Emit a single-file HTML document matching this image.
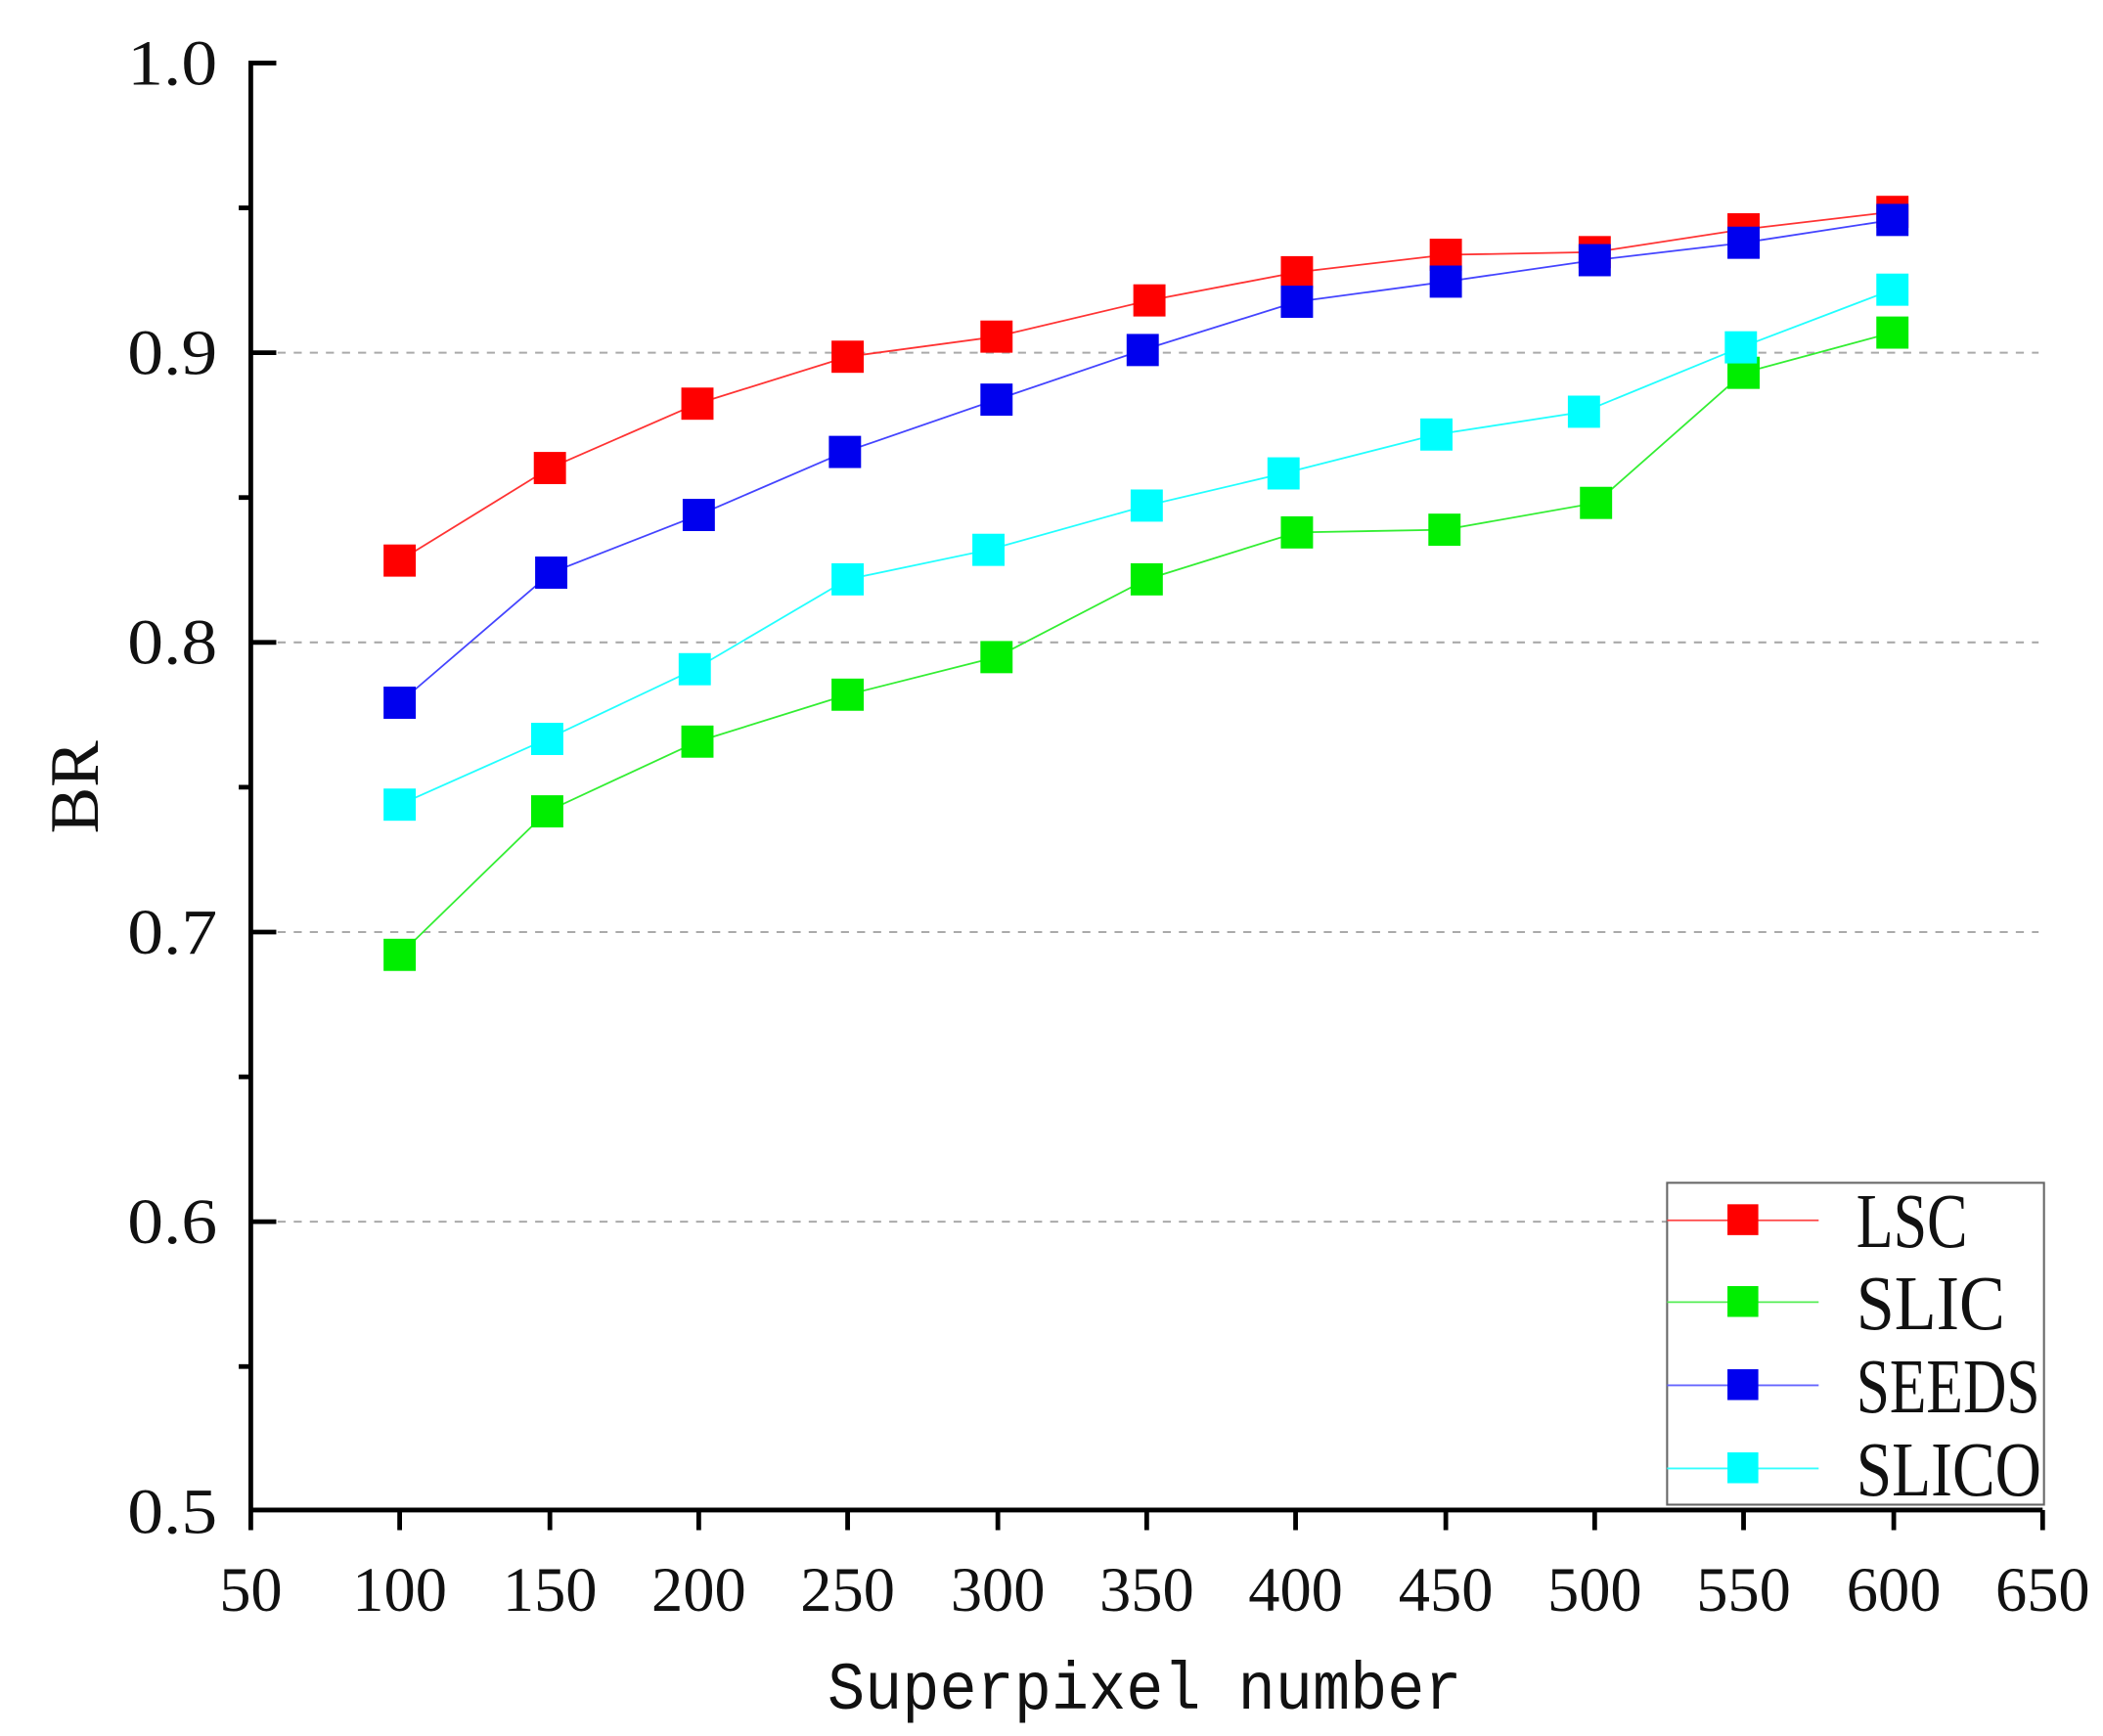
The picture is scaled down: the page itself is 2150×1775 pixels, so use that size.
<!DOCTYPE html>
<html><head><meta charset="utf-8"><style>
html,body{margin:0;padding:0;background:#fff;}
svg{display:block;}
text{font-family:"Liberation Serif",serif;fill:#111;}
</style></head><body>
<svg width="2150" height="1775" viewBox="0 0 1568 1294.5" xmlns="http://www.w3.org/2000/svg">
<rect width="1568" height="1294.5" fill="#fff"/>
<g stroke="#aaa" stroke-width="1.5" stroke-dasharray="6,6">
<line x1="207" y1="263" x2="1520" y2="263"/>
<line x1="207" y1="479" x2="1520" y2="479"/>
<line x1="207" y1="695" x2="1520" y2="695"/>
<line x1="207" y1="911" x2="1243" y2="911"/>
</g>
<g fill="none" stroke-width="1.3">
<polyline stroke="#ff3333" points="298,418 410,349 520,301 632,266 743,251 857,224 967,203 1078,190 1189,188 1300,171 1411,158"/>
<polyline stroke="#4444ff" points="298,524 411,427 521,384 630,337 743,298 852,261 967,225 1078,210 1189,194 1300,181 1411,164"/>
<polyline stroke="#22ffff" points="298,600 408,551 518,499 632,432 737,410 855,377 957,353 1071,324 1181,307 1298,259 1411,216"/>
<polyline stroke="#33ee33" points="298,712 408,605 520,553 632,518 743,490 855,432 967,397 1077,395 1190,375 1300,278 1411,248"/>
</g>
<g fill="#ff0000">
<rect x="286" y="406" width="24" height="24"/><rect x="398" y="337" width="24" height="24"/><rect x="508" y="289" width="24" height="24"/><rect x="620" y="254" width="24" height="24"/><rect x="731" y="239" width="24" height="24"/><rect x="845" y="212" width="24" height="24"/><rect x="955" y="191" width="24" height="24"/><rect x="1066" y="178" width="24" height="24"/><rect x="1177" y="176" width="24" height="24"/><rect x="1288" y="159" width="24" height="24"/><rect x="1399" y="146" width="24" height="24"/>
</g>
<g fill="#00ee00">
<rect x="286" y="700" width="24" height="24"/><rect x="396" y="593" width="24" height="24"/><rect x="508" y="541" width="24" height="24"/><rect x="620" y="506" width="24" height="24"/><rect x="731" y="478" width="24" height="24"/><rect x="843" y="420" width="24" height="24"/><rect x="955" y="385" width="24" height="24"/><rect x="1065" y="383" width="24" height="24"/><rect x="1178" y="363" width="24" height="24"/><rect x="1288" y="266" width="24" height="24"/><rect x="1399" y="236" width="24" height="24"/>
</g>
<g fill="#0000ee">
<rect x="286" y="512" width="24" height="24"/><rect x="399" y="415" width="24" height="24"/><rect x="509" y="372" width="24" height="24"/><rect x="618" y="325" width="24" height="24"/><rect x="731" y="286" width="24" height="24"/><rect x="840" y="249" width="24" height="24"/><rect x="955" y="213" width="24" height="24"/><rect x="1066" y="198" width="24" height="24"/><rect x="1177" y="182" width="24" height="24"/><rect x="1288" y="169" width="24" height="24"/><rect x="1399" y="152" width="24" height="24"/>
</g>
<g fill="#00ffff">
<rect x="286" y="588" width="24" height="24"/><rect x="396" y="539" width="24" height="24"/><rect x="506" y="487" width="24" height="24"/><rect x="620" y="420" width="24" height="24"/><rect x="725" y="398" width="24" height="24"/><rect x="843" y="365" width="24" height="24"/><rect x="945" y="341" width="24" height="24"/><rect x="1059" y="312" width="24" height="24"/><rect x="1169" y="295" width="24" height="24"/><rect x="1286" y="247" width="24" height="24"/><rect x="1399" y="204" width="24" height="24"/>
</g>
<g stroke="#000" stroke-width="3.5" fill="none">
<polyline points="206,47 187,47 187,1126 1523,1126"/>
<line x1="187" y1="263" x2="206" y2="263"/><line x1="187" y1="479" x2="206" y2="479"/><line x1="187" y1="695" x2="206" y2="695"/><line x1="187" y1="911" x2="206" y2="911"/>
<line x1="178" y1="155" x2="187" y2="155"/><line x1="178" y1="371" x2="187" y2="371"/><line x1="178" y1="587" x2="187" y2="587"/><line x1="178" y1="803" x2="187" y2="803"/><line x1="178" y1="1019" x2="187" y2="1019"/>
<line x1="187" y1="1126" x2="187" y2="1141"/><line x1="298" y1="1126" x2="298" y2="1141"/><line x1="410" y1="1126" x2="410" y2="1141"/><line x1="521" y1="1126" x2="521" y2="1141"/><line x1="632" y1="1126" x2="632" y2="1141"/><line x1="744" y1="1126" x2="744" y2="1141"/><line x1="855" y1="1126" x2="855" y2="1141"/><line x1="966" y1="1126" x2="966" y2="1141"/><line x1="1078" y1="1126" x2="1078" y2="1141"/><line x1="1189" y1="1126" x2="1189" y2="1141"/><line x1="1300" y1="1126" x2="1300" y2="1141"/><line x1="1412" y1="1126" x2="1412" y2="1141"/><line x1="1523" y1="1126" x2="1523" y2="1141"/>
</g>
<g font-size="48">
<text x="95" y="63" textLength="67" lengthAdjust="spacingAndGlyphs">1.0</text>
<text x="95" y="279" textLength="67" lengthAdjust="spacingAndGlyphs">0.9</text>
<text x="95" y="495" textLength="67" lengthAdjust="spacingAndGlyphs">0.8</text>
<text x="95" y="711" textLength="67" lengthAdjust="spacingAndGlyphs">0.7</text>
<text x="95" y="927" textLength="67" lengthAdjust="spacingAndGlyphs">0.6</text>
<text x="95" y="1143" textLength="67" lengthAdjust="spacingAndGlyphs">0.5</text>
</g>
<g font-size="47" text-anchor="middle">
<text x="187" y="1201">50</text><text x="298" y="1201">100</text><text x="410" y="1201">150</text><text x="521" y="1201">200</text><text x="632" y="1201">250</text><text x="744" y="1201">300</text><text x="855" y="1201">350</text><text x="966" y="1201">400</text><text x="1078" y="1201">450</text><text x="1189" y="1201">500</text><text x="1300" y="1201">550</text><text x="1412" y="1201">600</text><text x="1523" y="1201">650</text>
</g>
<text x="617" y="1274" font-size="50" textLength="473" lengthAdjust="spacingAndGlyphs" style="font-family:'Liberation Mono',monospace">Superpixel number</text>
<text transform="translate(73,587) rotate(-90)" font-size="52" text-anchor="middle">BR</text>
<rect x="1243" y="882" width="281" height="240" fill="#fff" stroke="#666" stroke-width="1.5"/>
<g stroke-width="1.3">
<line x1="1243" y1="910" x2="1356" y2="910" stroke="#ff4444"/>
<line x1="1243" y1="971" x2="1356" y2="971" stroke="#55ee55"/>
<line x1="1243" y1="1033" x2="1356" y2="1033" stroke="#6666ff"/>
<line x1="1243" y1="1095" x2="1356" y2="1095" stroke="#33ffff"/>
</g>
<rect x="1288" y="898" width="23" height="23" fill="#ff0000"/>
<rect x="1288" y="959" width="23" height="23" fill="#00ee00"/>
<rect x="1288" y="1021" width="23" height="23" fill="#0000ee"/>
<rect x="1288" y="1083" width="23" height="23" fill="#00ffff"/>
<g font-size="58">
<text x="1384" y="930" textLength="83" lengthAdjust="spacingAndGlyphs">LSC</text>
<text x="1384" y="991" textLength="111" lengthAdjust="spacingAndGlyphs">SLIC</text>
<text x="1384" y="1053" textLength="137" lengthAdjust="spacingAndGlyphs">SEEDS</text>
<text x="1384" y="1115" textLength="138" lengthAdjust="spacingAndGlyphs">SLICO</text>
</g>
</svg>
</body></html>
